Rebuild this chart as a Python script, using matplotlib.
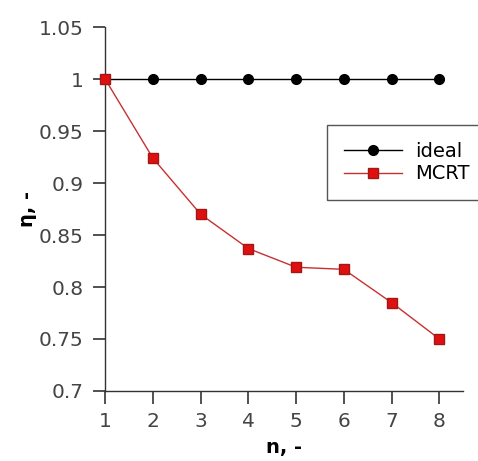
import numpy as np
from matplotlib import pyplot as plt

n_values = [1, 2, 3, 4, 5, 6, 7, 8]
eta_ideal = [1, 1, 1, 1, 1, 1, 1, 1]
eta_mcrt = [1.0, 0.924, 0.870, 0.837, 0.819, 0.817, 0.785, 0.750]

y_ticks = [0.7, 0.75, 0.8, 0.85, 0.9, 0.95, 1.0, 1.05]
y_tick_labels = ['0.7', '0.75', '0.8', '0.85', '0.9', '0.95', '1', '1.05']

fig = plt.figure(figsize=(4.78, 4.61), dpi=100)
ax = fig.add_axes([0.22, 0.152, 0.749, 0.789])

ax.plot(n_values, eta_ideal, color='black', linewidth=1.0, marker='o', markersize=7,
        markerfacecolor='black', markeredgecolor='black', label='ideal', clip_on=False, zorder=3)
ax.plot(n_values, eta_mcrt, color='#c83030', linewidth=1.0, marker='s', markersize=7,
        markerfacecolor='#e01010', markeredgecolor='#a01818', label='MCRT', clip_on=False, zorder=3)

ax.set_xlim(1, 8.5)
ax.set_ylim(0.7, 1.05)
ax.set_xticks(n_values)
ax.set_yticks(y_ticks)
ax.set_yticklabels(y_tick_labels)

for side in ['top', 'right']:
    ax.spines[side].set_visible(False)
for side in ['left', 'bottom']:
    ax.spines[side].set_color('#333333')
    ax.spines[side].set_linewidth(1.0)

ax.tick_params(direction='out', length=9, width=1.2, color='#333333', labelsize=14.5,
               labelcolor='#444444', pad=6.5)

ax.set_xlabel('n, -', fontsize=14, fontweight='bold', labelpad=5)
ax.set_ylabel('η, -', fontsize=14, fontweight='bold', labelpad=1)

leg = ax.legend(loc='upper left', bbox_to_anchor=(0.620, 0.731), fontsize=14,
                fancybox=False, framealpha=1, edgecolor='#555555',
                handlelength=3.0, handletextpad=0.7, borderpad=0.85, labelspacing=0.2,
                borderaxespad=0)
leg.get_frame().set_linewidth(1.0)

fig.savefig('out.png', dpi=100)
